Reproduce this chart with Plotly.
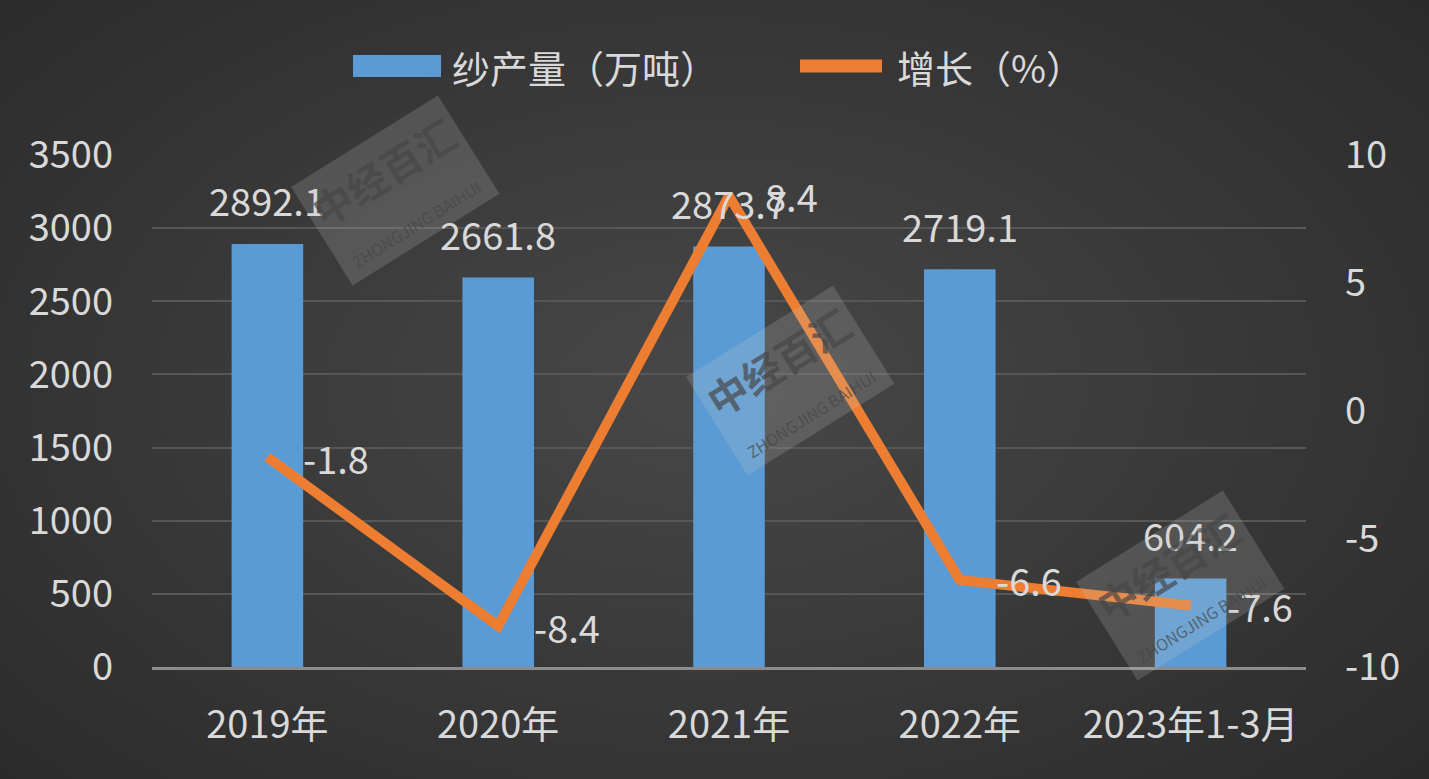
import plotly.graph_objects as go

categories = ["2019年", "2020年", "2021年", "2022年", "2023年1-3月"]
output_wt = [2892.1, 2661.8, 2873.7, 2719.1, 604.2]   # 纱产量（万吨）
growth = [-1.8, -8.4, 8.4, -6.6, -7.6]               # 增长（%）
left_ticks = [0, 500, 1000, 1500, 2000, 2500, 3000, 3500]
right_ticks = [-10, -5, 0, 5, 10]
right_tick_text = ["-10", "-5", "0", "5", "10"]

FONT = "Noto Sans CJK SC"
TXT = "#d9d9d9"
FS = 38

fig = go.Figure()
fig.add_trace(go.Bar(
    x=categories, y=output_wt, name="纱产量（万吨）",
    marker=dict(color="#5b9bd5", line=dict(width=0)),
    showlegend=False, yaxis="y",
))
fig.add_trace(go.Scatter(
    x=categories, y=growth, name="增长（%）", mode="lines",
    line=dict(color="#ed7d31", width=10),
    showlegend=False, yaxis="y2",
))

annotations = []
for c, v in zip(categories, output_wt):
    annotations.append(dict(x=c, y=v, xref="x", yref="y", text=f"{v}",
                            showarrow=False, yanchor="middle", yshift=44,
                            font=dict(family=FONT, size=FS, color=TXT)))
for c, v in zip(categories, growth):
    annotations.append(dict(x=c, y=v, xref="x", yref="y2", text=f"{v}",
                            showarrow=False, xanchor="left", xshift=34,
                            yanchor="middle",
                            font=dict(family=FONT, size=FS, color=TXT)))

shapes = []
# radial-ish background
N = 28
for i in range(N):
    r = 1.0 - i * (0.95 / N)
    shapes.append(dict(type="circle", xref="paper", yref="paper", layer="below",
                       x0=0.48 - 0.85 * r, x1=0.48 + 0.85 * r,
                       y0=0.55 - 1.15 * r, y1=0.55 + 1.15 * r,
                       line=dict(width=0), fillcolor="rgba(255,255,255,0.0085)"))

legend_y = 1.0 + (155 - 66) / 512
def px_x(p):
    return (p - 152) / 1154
shapes.append(dict(type="rect", xref="paper", yref="paper",
                   x0=px_x(353), x1=px_x(441),
                   y0=legend_y - 11 / 512, y1=legend_y + 11 / 512,
                   line=dict(width=0), fillcolor="#5b9bd5"))
shapes.append(dict(type="line", xref="paper", yref="paper",
                   x0=px_x(800), x1=px_x(882), y0=legend_y, y1=legend_y,
                   line=dict(color="#ed7d31", width=13)))
annotations.append(dict(x=px_x(450), y=legend_y, xref="paper", yref="paper",
                        text="纱产量（万吨）", showarrow=False, xanchor="left",
                        yanchor="middle", font=dict(family=FONT, size=FS, color=TXT)))
annotations.append(dict(x=px_x(895), y=legend_y, xref="paper", yref="paper",
                        text="增长（%）", showarrow=False, xanchor="left",
                        yanchor="middle", font=dict(family=FONT, size=FS, color=TXT)))

# watermarks
for wx, wy in [(395, 190), (790, 380), (1180, 585)]:
    annotations.append(dict(x=px_x(wx), y=(667 - wy) / 512, xref="paper", yref="paper",
                            xanchor="center", yanchor="middle",
                            text="<b>中经百汇</b><br><span style='font-size:16px'>ZHONGJING BAIHUI</span>",
                            showarrow=False, textangle=-32,
                            bgcolor="rgba(200,200,200,0.2)", borderpad=6,
                            font=dict(family=FONT, size=40, color="rgba(70,70,70,0.7)")))

fig.update_layout(
    width=1429, height=779,
    margin=dict(l=152, r=123, t=155, b=112),
    paper_bgcolor="#2a2a2a", plot_bgcolor="rgba(0,0,0,0)",
    bargap=0.69,
    font=dict(family=FONT, size=FS, color=TXT),
    xaxis=dict(showgrid=False, showline=True, linecolor="#8c8c8c", linewidth=3,
               ticks="", ticklabelstandoff=22,
               tickfont=dict(family=FONT, size=FS, color=TXT)),
    yaxis=dict(range=[0, 3500], tickvals=left_ticks, showgrid=True,
               gridcolor="#575757", gridwidth=2, zeroline=False,
               ticks="", ticklabelstandoff=38,
               tickfont=dict(family=FONT, size=FS, color=TXT)),
    yaxis2=dict(range=[-10, 10], tickvals=right_ticks, ticktext=right_tick_text,
                overlaying="y", side="right",
                showgrid=False, zeroline=False, ticks="", ticklabelstandoff=38,
                tickfont=dict(family=FONT, size=FS, color=TXT)),
    shapes=shapes, annotations=annotations, showlegend=False,
)

fig.write_html("out.html", config={"displayModeBar": False},
               post_script="document.body.style.margin='0';document.body.style.overflow='hidden';"
                           "document.body.style.background='#2a2a2a';")
